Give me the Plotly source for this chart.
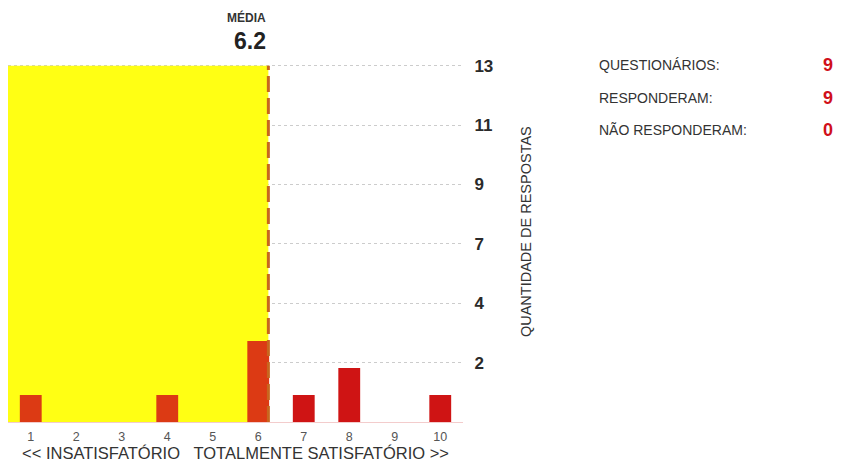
import plotly.graph_objects as go

# ---- data ----
scores = [1, 2, 3, 4, 5, 6, 7, 8, 9, 10]
counts = [1, 0, 0, 1, 0, 3, 1, 2, 0, 1]
y_tick_vals = [2.2, 4.4, 6.6, 8.8, 11.0, 13.2]
y_tick_text = ["2", "4", "7", "9", "11", "13"]
summary_labels = ["QUESTIONÁRIOS:", "RESPONDERAM:", "NÃO RESPONDERAM:"]
summary_values = [9, 9, 0]

mean = sum(s * c for s, c in zip(scores, counts)) / sum(counts)

bar_colors = ["#dc3a14" if s <= mean else "#cf1414" for s in scores]

FONT = "Arial, Liberation Sans, sans-serif"

fig = go.Figure()
fig.add_trace(go.Bar(
    x=scores, y=counts, width=0.48,
    marker=dict(color=bar_colors, line=dict(width=0)),
    hoverinfo="x+y",
))

# yellow area up to the mean (above gridlines, below bars)
fig.add_shape(type="rect", xref="x", yref="y",
              x0=0.5, x1=mean, y0=0, y1=max(y_tick_vals),
              fillcolor="#ffff14", line=dict(width=0), layer="between")
# dashed mean line
fig.add_shape(type="line", xref="x", yref="y",
              x0=mean, x1=mean, y0=0, y1=max(y_tick_vals),
              line=dict(color="#c8661e", width=3, dash="16px,6px"), layer="above")

# mean labels
fig.add_annotation(x=mean, xref="x", xanchor="right", xshift=0,
                   y=1.128, yref="paper", yanchor="middle",
                   text="<b>MÉDIA</b>", showarrow=False,
                   font=dict(family=FONT, size=12, color="#333333"))
fig.add_annotation(x=mean, xref="x", xanchor="right", xshift=0,
                   y=1.062, yref="paper", yanchor="middle",
                   text=f"{mean:.1f}", showarrow=False,
                   font=dict(family=FONT, size=23, color="#222222", weight=600))

# y axis title
fig.add_annotation(x=1.137, xref="paper", xanchor="center",
                   y=0.53, yref="paper", yanchor="middle",
                   text="QUANTIDADE DE RESPOSTAS", textangle=-90, showarrow=False,
                   font=dict(family=FONT, size=14.5, color="#333333"))

# summary panel
for i, (lab, val) in enumerate(zip(summary_labels, summary_values)):
    yy = 0.994 - i * 0.0905
    fig.add_annotation(x=1.2945, xref="paper", xanchor="left",
                       y=yy, yref="paper", yanchor="middle",
                       text=lab, showarrow=False,
                       font=dict(family=FONT, size=14, color="#333333"))
    fig.add_annotation(x=1.818, xref="paper", xanchor="right",
                       y=yy, yref="paper", yanchor="middle",
                       text=f"<b>{val}</b>", showarrow=False,
                       font=dict(family=FONT, size=18, color="#d0101a"))

fig.update_layout(
    width=837, height=460,
    margin=dict(l=0, r=382, t=55, b=46, autoexpand=False),
    paper_bgcolor="white", plot_bgcolor="white",
    showlegend=False,
    bargap=0.5,
    xaxis=dict(
        range=[0.5, 10.5], tickmode="array", tickvals=scores,
        ticktext=[str(s) for s in scores],
        showgrid=False, zeroline=False,
        showline=True, linecolor="#f3cccc", linewidth=1,
        ticks="outside", ticklen=3, tickcolor="rgba(0,0,0,0)",
        tickfont=dict(family=FONT, size=12.5, color="#555555"),
        title=dict(text="<< INSATISFATÓRIO   TOTALMENTE SATISFATÓRIO >>",
                   font=dict(family=FONT, size=16.5, color="#333333"), standoff=0),
    ),
    yaxis=dict(
        range=[0, 13.3], side="right",
        tickmode="array", tickvals=y_tick_vals, ticktext=y_tick_text,
        showgrid=True, gridcolor="#cccccc", griddash="dot", gridwidth=1,
        zeroline=False, showline=False,
        ticks="outside", ticklen=7, tickcolor="rgba(0,0,0,0)",
        tickfont=dict(family=FONT, size=17, color="#2a2a2a", weight="bold"),
    ),
)

fig.write_html("out.html")
